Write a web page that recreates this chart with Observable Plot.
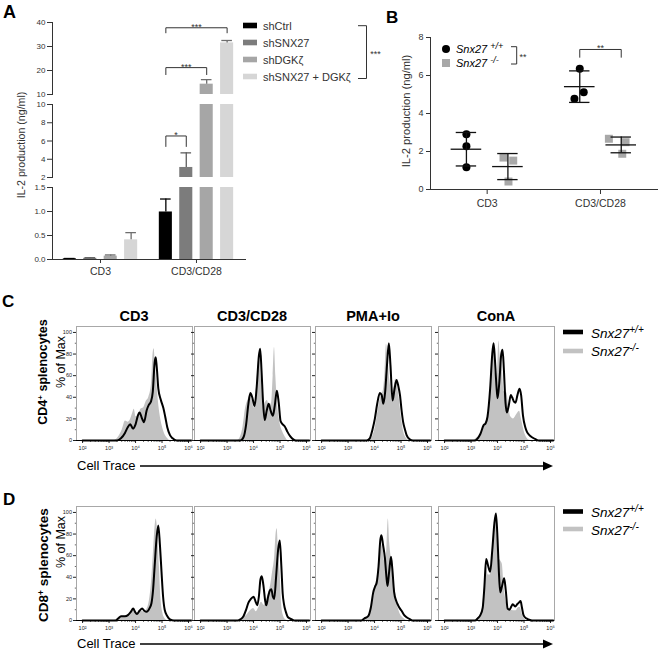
<!DOCTYPE html>
<html><head><meta charset="utf-8">
<script src="https://cdn.jsdelivr.net/npm/d3@7"></script>
<script src="https://cdn.jsdelivr.net/npm/@observablehq/plot@0.6"></script>
<style>
body{margin:0;background:#fff;}
#fig{position:relative;width:660px;height:652px;overflow:hidden;background:#fff;font-family:"Liberation Sans",Arial,Helvetica,sans-serif;}
#fig svg{position:absolute;}
</style></head>
<body><div id="fig"></div>
<script>
// ---------- Panel A data ----------
const groupsA = ["CD3", "CD3/CD28"];
const seriesA = ["shCtrl", "shSNX27", "shDGKζ", "shSNX27 + DGKζ"];
const colorsA = ["#000000", "#7c7c7c", "#a6a6a6", "#d6d6d6"];
const ebarColorsA = ["#000000", "#5e5e5e", "#6e6e6e", "#6e6e6e"];
const meanA = [[0.015, 0.025, 0.07, 0.41], [0.99, 3.1, 14.3, 31.5]];
const semA = [[0.006, 0.012, 0.025, 0.15], [0.27, 1.6, 1.9, 1.0]];
const segDomainsA = [[10, 40], [2, 10], [0, 1.5]];
const segTicksA = [[10, 20, 30, 40], [2, 4, 6, 8, 10], [0, 0.5, 1, 1.5]];
const bracketsA = [
  {from: 0, to: 1, y: 6.55, leg: 5.4, label: "*", seg: 1},
  {from: 0, to: 2, y: 21.2, leg: 18.3, label: "***", seg: 0},
  {from: 0, to: 3, y: 37.8, leg: 35.7, label: "***", seg: 0}
];

// ---------- Panel B data ----------
const groupsB = ["CD3", "CD3/CD28"];
const genoBase = ["Snx27", "Snx27"];
const genoSup = ["+/+", "-/-"];
const wt_CD3 = [2.91, 2.28, 1.17];
const ko_CD3 = [1.68, 1.52, 0.42];
const wt_CD28 = [6.35, 5.12, 4.77];
const ko_CD28 = [2.67, 2.49, 1.88];
const jit_wt_CD3 = [0, 0, 0];
const jit_ko_CD3 = [-0.039, 0.047, 0.005];
const jit_wt_CD28 = [0, 0.035, -0.047];
const jit_ko_CD28 = [-0.109, 0.038, 0.009];
const bracketB = [{g: 1, y: 7.37, leg: 6.96, label: "**"}];

// ---------- Panels C/D data: [log10(Cell Trace), % of Max] ----------
const histCols = ["CD3", "CD3/CD28", "PMA+Io", "ConA"];
const cd4_cd3_wt = [[2,0],[3.3,0],[3.45,2],[3.6,7],[3.7,12],[3.8,15],[3.9,11],[4,15],[4.1,24],[4.15,26],[4.25,20],[4.32,17],[4.42,28],[4.5,33],[4.58,36],[4.65,45],[4.72,72],[4.76,77],[4.8,68],[4.86,48],[4.95,38],[5.05,30],[5.12,22],[5.2,12],[5.3,5],[5.4,2],[5.55,0],[6.1,0]];
const cd4_cd3_ko = [[2,0],[3.2,0],[3.35,3],[3.5,10],[3.62,18],[3.72,17],[3.8,19],[3.9,26],[3.95,29],[4.02,22],[4.1,22],[4.2,29],[4.3,30],[4.4,36],[4.5,40],[4.6,52],[4.66,80],[4.7,85],[4.75,70],[4.82,48],[4.9,28],[5,14],[5.1,6],[5.2,2],[5.3,0],[6.1,0]];
const cd4_cd28_wt = [[2,0],[3.5,0],[3.62,3],[3.72,15],[3.8,33],[3.88,44],[3.95,40],[4.04,32],[4.12,50],[4.2,78],[4.25,85],[4.3,65],[4.36,35],[4.42,19],[4.5,28],[4.57,34],[4.64,28],[4.73,23],[4.8,32],[4.88,46],[4.95,35],[5.02,18],[5.1,15],[5.18,13],[5.28,8],[5.38,4],[5.5,1],[5.6,0],[6.1,0]];
const cd4_cd28_ko = [[2,0],[3.4,0],[3.5,3],[3.6,12],[3.7,30],[3.8,38],[3.86,42],[3.95,38],[4.02,30],[4.1,45],[4.18,72],[4.23,80],[4.3,55],[4.38,30],[4.45,35],[4.52,37],[4.6,32],[4.68,35],[4.74,60],[4.79,86],[4.84,60],[4.9,35],[5,16],[5.1,8],[5.2,3],[5.3,0],[6.1,0]];
const cd4_pma_wt = [[2,0],[3.7,0],[3.82,2],[3.92,10],[4.01,20],[4.1,34],[4.2,44],[4.27,42],[4.33,34],[4.4,45],[4.47,70],[4.54,90],[4.6,70],[4.68,37],[4.75,47],[4.83,56],[4.9,50],[4.96,42],[5.02,28],[5.08,17],[5.15,10],[5.21,5],[5.33,1],[5.45,0],[6.1,0]];
const cd4_pma_ko = [[2,0],[3.8,0],[3.95,5],[4.05,15],[4.15,30],[4.25,42],[4.32,45],[4.4,65],[4.45,89],[4.5,78],[4.58,55],[4.66,45],[4.74,50],[4.8,57],[4.88,48],[4.95,35],[5.02,20],[5.1,8],[5.2,2],[5.3,0],[6.1,0]];
const cd4_cona_wt = [[2,0],[3.15,0],[3.25,2],[3.35,6],[3.47,14],[3.55,16],[3.62,22],[3.72,48],[3.8,80],[3.85,90],[3.9,75],[3.96,50],[4,39],[4.07,55],[4.14,80],[4.19,84],[4.24,65],[4.3,35],[4.35,26],[4.42,32],[4.5,42],[4.55,40],[4.62,36],[4.68,35],[4.75,42],[4.83,48],[4.89,42],[4.96,23],[5.05,12],[5.11,8],[5.2,5],[5.3,3],[5.45,1],[5.55,0],[6.1,0]];
const cd4_cona_ko = [[2,0],[3.1,0],[3.2,2],[3.35,5],[3.5,12],[3.62,18],[3.72,45],[3.8,78],[3.86,88],[3.92,62],[3.98,50],[4.05,92],[4.1,78],[4.17,70],[4.25,45],[4.35,44],[4.42,32],[4.5,22],[4.6,20],[4.75,25],[4.83,27],[4.9,20],[4.97,12],[5.05,5],[5.15,1],[5.25,0],[6.1,0]];
const cd8_cd3_wt = [[2,0],[3.25,0],[3.35,2],[3.45,4],[3.6,4],[3.71,5],[3.82,8],[3.91,11],[3.98,8],[4.05,6],[4.15,9],[4.25,11],[4.33,9],[4.42,8],[4.52,11],[4.6,16],[4.66,28],[4.72,50],[4.8,78],[4.86,88],[4.92,70],[4.98,45],[5.04,22],[5.1,10],[5.2,4],[5.3,1],[5.45,0],[6.1,0]];
const cd8_cd3_ko = [[2,0],[3.2,0],[3.35,2],[3.5,3],[3.65,4],[3.8,6],[3.9,9],[4,7],[4.1,7],[4.2,9],[4.3,8],[4.42,10],[4.52,18],[4.6,35],[4.68,65],[4.74,88],[4.78,94],[4.84,80],[4.9,50],[4.96,20],[5.02,8],[5.1,2],[5.2,0],[6.1,0]];
const cd8_cd28_wt = [[2,0],[3.4,0],[3.5,1],[3.62,4],[3.72,10],[3.8,16],[3.9,20],[4,22],[4.07,18],[4.14,14],[4.2,22],[4.26,38],[4.31,41],[4.37,33],[4.44,18],[4.48,14],[4.55,22],[4.62,28],[4.67,29],[4.73,22],[4.78,20],[4.85,40],[4.93,66],[4.99,74],[5.05,50],[5.1,25],[5.15,15],[5.22,8],[5.3,3],[5.45,1],[5.55,0],[6.1,0]];
const cd8_cd28_ko = [[2,0],[3.45,0],[3.6,2],[3.75,5],[3.88,9],[4,11],[4.1,8],[4.2,12],[4.3,17],[4.4,14],[4.48,18],[4.56,25],[4.64,32],[4.72,45],[4.8,60],[4.85,80],[4.89,85],[4.94,65],[5,45],[5.06,15],[5.12,5],[5.2,1],[5.3,0],[6.1,0]];
const cd8_pma_wt = [[2,0],[3.5,0],[3.62,2],[3.76,4],[3.86,12],[3.95,26],[4.03,32],[4.08,35],[4.15,50],[4.22,75],[4.26,79],[4.32,70],[4.39,58],[4.45,40],[4.49,32],[4.55,45],[4.62,59],[4.67,48],[4.74,26],[4.82,18],[4.89,14],[4.96,11],[5.02,9],[5.12,5],[5.21,3],[5.35,1],[5.45,0],[6.1,0]];
const cd8_pma_ko = [[2,0],[3.6,0],[3.72,2],[3.82,6],[3.92,15],[4,28],[4.1,40],[4.2,58],[4.3,70],[4.38,55],[4.45,60],[4.52,94],[4.57,72],[4.62,60],[4.7,38],[4.78,28],[4.86,15],[4.95,7],[5.05,3],[5.15,1],[5.25,0],[6.1,0]];
const cd8_cona_wt = [[2,0],[3.15,0],[3.25,2],[3.35,5],[3.44,12],[3.5,30],[3.57,57],[3.63,52],[3.72,45],[3.8,65],[3.88,90],[3.94,99],[4,75],[4.05,45],[4.1,26],[4.17,32],[4.25,39],[4.31,28],[4.38,11],[4.45,10],[4.52,13],[4.57,15],[4.62,14],[4.67,13],[4.74,15],[4.82,17],[4.87,18],[4.92,12],[4.98,5],[5.08,2],[5.17,1],[5.3,0],[6.1,0]];
const cd8_cona_ko = [[2,0],[3.15,0],[3.3,3],[3.42,10],[3.52,35],[3.58,50],[3.65,42],[3.72,42],[3.8,58],[3.88,88],[3.93,96],[3.98,80],[4.05,58],[4.12,55],[4.18,52],[4.25,30],[4.32,18],[4.4,12],[4.5,10],[4.6,9],[4.7,9],[4.8,12],[4.86,12],[4.93,6],[5,2],[5.1,0],[6.1,0]];
const histRowLabels = ["CD4", "CD8"];

// ---------- layout ----------
const FONT = "'Liberation Sans',Arial,Helvetica,sans-serif";
const fig = document.getElementById("fig");
function place(el, left, top) { el.style.left = left + "px"; el.style.top = top + "px"; fig.appendChild(el); return el; }

// ---------- Panel A (broken y axis: three stacked segments) ----------
const GAP = 4.7;
const posA = (gi, si) => gi * GAP + si;
const centersA = groupsA.map((g, gi) => posA(gi, 1.5));
const barsA = groupsA.flatMap((g, gi) => seriesA.map((s, si) => ({
  group: g, series: s, pos: posA(gi, si), mean: meanA[gi][si], sem: semA[gi][si],
  color: colorsA[si], ebar: ebarColorsA[si]
})));
const segPix = [[22, 94], [104, 177], [187, 259]];
segDomainsA.forEach((dom, k) => {
  const [t, b] = segPix[k];
  const last = k === segDomainsA.length - 1;
  const mt = 12, mb = last ? 22 : 2;
  const br = bracketsA.filter(d => d.seg === k);
  const brPts = br.flatMap((d, i) => {
    const xa = posA(1, d.from), xb = posA(1, d.to);
    return [[xa, d.leg], [xa, d.y], [xb, d.y], [xb, d.leg]].map(([x, y]) => ({id: i, x, y}));
  });
  const chart = Plot.plot({
    width: 250, height: mt + (b - t) + mb,
    marginLeft: 52, marginRight: 5, marginTop: mt, marginBottom: mb,
    x: last ? {domain: [-0.85, 8.6], ticks: centersA, tickFormat: d => groupsA[centersA.indexOf(d)], tickSize: 4, tickPadding: 4, line: true, label: null}
            : {domain: [-0.85, 8.6], axis: null},
    y: {domain: dom, ticks: segTicksA[k], tickFormat: last ? (d => d.toFixed(1)) : (d => d), tickSize: 5, tickPadding: 2, line: true, label: null},
    color: {type: "identity"},
    style: `background:transparent;overflow:visible;font-family:${FONT};font-size:8px;color:#333;`,
    marks: [
      Plot.rectY(barsA, {x1: d => d.pos - 0.32, x2: d => d.pos + 0.32, y1: 0, y2: "mean", fill: "color", clip: true}),
      Plot.ruleX(barsA, {x: "pos", y1: "mean", y2: d => d.mean + d.sem, stroke: "ebar", strokeWidth: 1.3, clip: true}),
      Plot.ruleY(barsA, {y: d => d.mean + d.sem, x1: d => d.pos - 0.26, x2: d => d.pos + 0.26, stroke: "ebar", strokeWidth: 1.3, clip: true}),
      Plot.line(brPts, {x: "x", y: "y", z: "id", stroke: "#333", strokeWidth: 1}),
      Plot.text(br, {x: d => (posA(1, d.from) + posA(1, d.to)) / 2, y: "y", text: "label", dy: -1, fontSize: 9, fill: "#333"})
    ]
  });
  if (last) {
    chart.querySelectorAll("g[aria-label='x-axis tick label'] text").forEach(t => t.setAttribute("font-size", "10.5"));
  }
  place(chart, 0, t - mt);
});

// ---------- Panel B ----------
const offB = [-0.183, 0.183];
const valsB = [[wt_CD3, ko_CD3], [wt_CD28, ko_CD28]];
const jitB = [[jit_wt_CD3, jit_ko_CD3], [jit_wt_CD28, jit_ko_CD28]];
const ptsB = [], statsB = [];
valsB.forEach((gv, gi) => gv.forEach((arr, k) => {
  arr.forEach((v, i) => ptsB.push({gi, k, v, x: gi + offB[k] + jitB[gi][k][i]}));
  const m = d3.mean(arr), sd = d3.deviation(arr);
  statsB.push({c: gi + offB[k], mean: m, lo: m - sd, hi: m + sd});
}));
const brB = bracketB.map(d => [[d.g + offB[0], d.leg], [d.g + offB[0], d.y], [d.g + offB[1], d.y], [d.g + offB[1], d.leg]]).flat().map(([x, y]) => ({x, y}));
const chartB = Plot.plot({
  width: 290, height: 219, marginLeft: 60, marginRight: 3, marginTop: 37, marginBottom: 30,
  x: {domain: [-0.5, 1.503], ticks: [0, 1], tickFormat: d => groupsB[d], tickSize: 5, tickPadding: 5, line: true, label: null},
  y: {domain: [0, 8], ticks: [0, 2, 4, 6, 8], tickSize: 4, tickPadding: 3, line: true, label: null},
  style: `background:transparent;overflow:visible;font-family:${FONT};font-size:10.5px;color:#333;`,
  marks: [
    Plot.dot(ptsB.filter(d => d.k === 0), {x: "x", y: "v", r: 4, fill: "#000", stroke: null}),
    Plot.dot(ptsB.filter(d => d.k === 1), {x: "x", y: "v", r: 4.5, symbol: "square", fill: "#a8a8a8", stroke: null}),
    Plot.ruleY(statsB, {y: "mean", x1: d => d.c - 0.135, x2: d => d.c + 0.135, stroke: "#111", strokeWidth: 1.3}),
    Plot.ruleX(statsB, {x: "c", y1: "lo", y2: "hi", stroke: "#111", strokeWidth: 1.3}),
    Plot.ruleY(statsB, {y: "hi", x1: d => d.c - 0.09, x2: d => d.c + 0.09, stroke: "#111", strokeWidth: 1.3}),
    Plot.ruleY(statsB, {y: "lo", x1: d => d.c - 0.09, x2: d => d.c + 0.09, stroke: "#111", strokeWidth: 1.3}),
    Plot.line(brB, {x: "x", y: "y", stroke: "#333", strokeWidth: 1}),
    Plot.text(bracketB, {x: "g", y: "y", text: "label", dy: -1, fontSize: 9, fill: "#333"})
  ]
});
chartB.querySelectorAll("g[aria-label='y-axis tick label'] text").forEach(t => t.setAttribute("font-size", "9"));
place(chartB, 370, 0);

// ---------- Panels C / D : histograms ----------
const histData = [
  {wt: [cd4_cd3_wt, cd4_cd28_wt, cd4_pma_wt, cd4_cona_wt], ko: [cd4_cd3_ko, cd4_cd28_ko, cd4_pma_ko, cd4_cona_ko]},
  {wt: [cd8_cd3_wt, cd8_cd28_wt, cd8_pma_wt, cd8_cona_wt], ko: [cd8_cd3_ko, cd8_cd28_ko, cd8_pma_ko, cd8_cona_ko]}
];
const panelLeft = [76, 194, 315, 438];
const rowTop = [326, 506];
const majorX = [1e2, 1e3, 1e4, 1e5, 1e6];
const minorX = d3.range(2, 6).flatMap(e => d3.range(2, 10).map(m => m * 10 ** e));
const sup = {2: "²", 3: "³", 4: "⁴", 5: "⁵", 6: "⁶"};
const fmtPow = d => "10" + sup[Math.round(Math.log10(d))];
histData.forEach((row, ri) => {
  histCols.forEach((c, ci) => {
    const first = ci === 0;
    const chart = Plot.plot({
      width: 138, height: 134, marginLeft: 20, marginRight: 2, marginTop: 2, marginBottom: 18,
      x: {type: "log", domain: [10 ** 1.77, 10 ** 6.15], ticks: majorX, tickFormat: fmtPow, tickSize: 3, tickPadding: 2.5, label: null},
      y: {domain: [0, 105.5], ticks: [0, 20, 40, 60, 80, 100], tickSize: 3, tickPadding: 1.5, tickFormat: first ? (d => d) : (() => ""), label: null},
      style: `background:transparent;overflow:visible;font-family:${FONT};font-size:5.5px;color:#222;`,
      marks: [
        Plot.frame({stroke: "#a8a8a8", strokeWidth: 1}),
        Plot.areaY(row.ko[ci], {x: d => 10 ** d[0], y: d => d[1], fill: "#c2c2c2", curve: "monotone-x"}),
        Plot.lineY(row.wt[ci], {x: d => 10 ** d[0], y: d => d[1], stroke: "#000", strokeWidth: 2, curve: "monotone-x"}),
        Plot.ruleY([0], {stroke: "#000", strokeWidth: 1.2}),
        Plot.ruleX(minorX, {x: d => d, y1: 0, y2: -1.8, stroke: "#000", strokeWidth: 0.6}),
        Plot.ruleY([10, 30, 50, 70, 90], {y: d => d, x1: 10 ** 1.77, x2: 10 ** 1.725, stroke: "#000", strokeWidth: 0.6})
      ]
    });
    place(chart, panelLeft[ci] - 20, rowTop[ri] - 2);
  });
});

// ---------- Annotation layer (panel letters, labels, legends) ----------
const ov = d3.select(fig).append("svg").attr("width", 660).attr("height", 652)
  .style("left", "0px").style("top", "0px").style("overflow", "visible")
  .attr("font-family", FONT);
function T(x, y, str, o = {}) {
  const t = ov.append("text").attr("x", x).attr("y", y).text(str)
    .attr("font-size", o.size || 10).attr("fill", o.fill || "#000")
    .attr("text-anchor", o.anchor || "start");
  if (o.bold) t.attr("font-weight", "bold");
  if (o.italic) t.attr("font-style", "italic");
  if (o.rotate) t.attr("transform", `rotate(-90 ${x} ${y})`);
  return t;
}
// panel letters
T(3, 18, "A", {size: 18, bold: true});
T(386, 23, "B", {size: 17, bold: true});
T(2, 307, "C", {size: 17, bold: true});
T(3, 505, "D", {size: 17, bold: true});
// axis titles
T(25, 145, "IL-2 production (ng/ml)", {size: 10.6, anchor: "middle", rotate: true, fill: "#333"});
T(410, 111, "IL-2 production (ng/ml)", {size: 11.2, anchor: "middle", rotate: true, fill: "#333"});

// Panel A legend
seriesA.forEach((s, i) => {
  const cy = 25.5 + i * 17;
  ov.append("rect").attr("x", 243).attr("y", cy - 2.8).attr("width", 14).attr("height", 5.6).attr("fill", colorsA[i]);
  T(263, cy + 4, s, {size: 11, fill: "#333"});
});
ov.append("path").attr("d", "M358,25.7H366.5V78.5H358").attr("fill", "none").attr("stroke", "#333").attr("stroke-width", 1);
T(375.5, 57, "***", {size: 9, anchor: "middle", fill: "#333"});

// Panel B legend
ov.append("circle").attr("cx", 446).attr("cy", 49).attr("r", 4).attr("fill", "#000");
ov.append("rect").attr("x", 442).attr("y", 59).attr("width", 8).attr("height", 8).attr("fill", "#a8a8a8");
genoBase.forEach((g, i) => {
  const t = T(456, 53 + i * 14, g + " ", {size: 11, italic: true});
  t.append("tspan").attr("dy", -4).attr("font-size", 9).text(genoSup[i]);
});
ov.append("path").attr("d", "M511,46.7H516.7V64H511").attr("fill", "none").attr("stroke", "#333").attr("stroke-width", 1);
T(523, 60, "**", {size: 9, anchor: "middle", fill: "#333"});

// Panels C/D column titles
histCols.forEach((c, ci) => T(panelLeft[ci] + 58, 321, c, {size: 14.5, bold: true, anchor: "middle"}));

// row labels, Cell Trace arrows, legends
[0, 1].forEach(ri => {
  const oy = ri * 180;
  const rl = T(ri ? 48 : 47, (ri ? 565 : 372), histRowLabels[ri], {size: ri ? 13.5 : 12.5, bold: true, anchor: "middle", rotate: true});
  rl.append("tspan").attr("dy", -4).attr("font-size", ri ? 8.5 : 8).text("+");
  rl.append("tspan").attr("dy", 4).text(" splenocytes");
  T(65, 362 + oy, "% of Max", {size: 12.5, anchor: "middle", rotate: true});
  T(77, 470 + (ri ? 178 : 0), "Cell Trace", {size: 13});
  const ay = 466 + (ri ? 178 : 0);
  ov.append("line").attr("x1", 140).attr("x2", 545).attr("y1", ay).attr("y2", ay).attr("stroke", "#000").attr("stroke-width", 1.6);
  ov.append("path").attr("d", `M543,${ay - 4.5}L553,${ay}L543,${ay + 4.5}Z`).attr("fill", "#000");
  const ly = ri ? [511.5, 529] : [332, 351];
  const ty = ri ? [517, 535] : [338, 356];
  ["#000", "#c2c2c2"].forEach((col, i) => {
    ov.append("rect").attr("x", 563).attr("y", ly[i] - 2.3).attr("width", 20).attr("height", 4.6).attr("fill", col);
    const t = T(591, ty[i], genoBase[i], {size: 13.5, italic: true});
    t.append("tspan").attr("dy", -5.5).attr("font-size", 10).text(genoSup[i]);
  });
});
</script></body></html>
